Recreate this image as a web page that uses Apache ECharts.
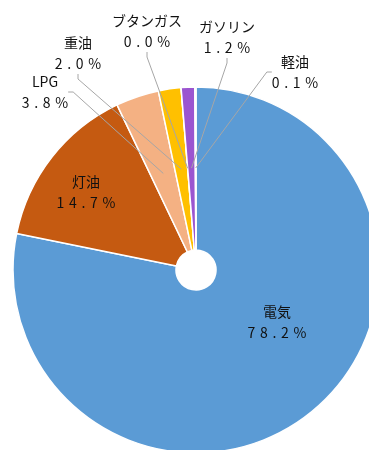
<!DOCTYPE html>
<html>
<head>
<meta charset="utf-8">
<script src="https://cdn.jsdelivr.net/npm/echarts@6/dist/echarts.min.js"></script>
<style>
  html, body { margin: 0; padding: 0; background: #fff; }
  #chart { width: 369px; height: 450px; }
</style>
</head>
<body>
<div id="chart"></div>
<script>
// Energy sources, share in percent (clockwise from 12 o'clock)
const categories = ['電気', '灯油', 'LPG', '重油', 'ブタンガス', 'ガソリン', '軽油'];
const shares = [78.2, 14.7, 3.8, 2.0, 0.0, 1.2, 0.1];
const sliceColors = ['#5B9BD5', '#C55A11', '#F4B183', '#FFC000', '#70AD47', '#9B55D0', '#D9D9D9'];
// Label anchor points (centre of each two-line label)
const labelSpots = [[277, 322], [86, 192], [45, 92], [78, 53], [147, 31], [227, 37], [295, 72]];
// Slices whose label sits inside the slice (no leader line)
const insideLabels = ['電気', '灯油'];

const CENTER = [196, 270];

function spaced(s) {
  return s.split('').join('\u2004');
}

const chart = echarts.init(document.getElementById('chart'), null, { renderer: 'canvas' });

const pieData = categories.map((name, i) => ({
  name,
  value: shares[i],
  itemStyle: { color: sliceColors[i] }
}));

const labelData = categories.map((name, i) => ({
  name,
  value: shares[i],
  labelLine: { show: insideLabels.indexOf(name) < 0 }
}));

chart.setOption({
  animation: false,
  series: [
    {
      type: 'pie',
      z: 2,
      center: CENTER,
      radius: [20, 183],
      startAngle: 90,
      clockwise: true,
      silent: true,
      avoidLabelOverlap: false,
      itemStyle: { borderColor: '#ffffff', borderWidth: 1.5 },
      label: { show: false },
      labelLine: { show: false },
      data: pieData
    },
    {
      // transparent overlay carrying the labels; its rim is where leader lines start
      type: 'pie',
      z: 5,
      center: CENTER,
      radius: [0, 102],
      startAngle: 90,
      clockwise: true,
      silent: true,
      avoidLabelOverlap: false,
      itemStyle: { color: 'rgba(0,0,0,0)', borderWidth: 0 },
      label: {
        show: true,
        position: 'outside',
        fontFamily: '"Noto Sans CJK JP", "Noto Sans", sans-serif',
        fontSize: 14,
        lineHeight: 21,
        color: '#111111',
        align: 'center',
        formatter: p => p.name + '\n' + spaced(p.value.toFixed(1) + '%')
      },
      labelLine: {
        show: true,
        length: 10,
        length2: 5,
        lineStyle: { color: '#A6A6A6', width: 1 }
      },
      labelLayout: p => ({
        x: labelSpots[p.dataIndex][0],
        y: labelSpots[p.dataIndex][1],
        align: 'center',
        verticalAlign: 'middle'
      }),
      data: labelData
    }
  ]
});
</script>
</body>
</html>
